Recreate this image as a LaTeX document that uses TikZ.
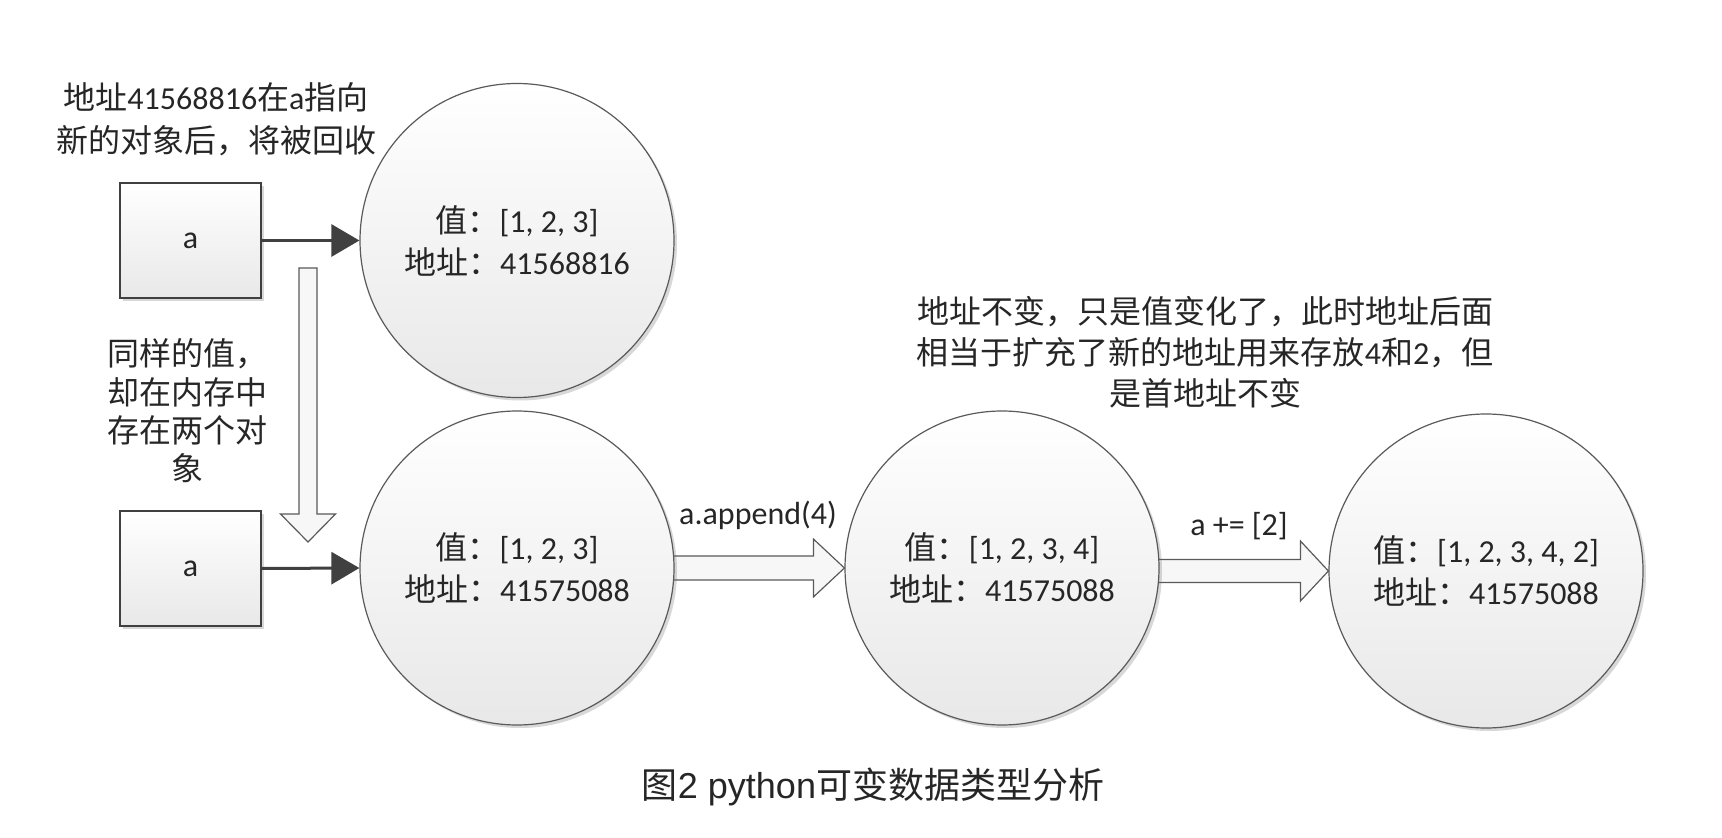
\documentclass[tikz,border=0pt]{standalone}
\usepackage{fontspec}
\setmainfont{Carlito}
\newfontfamily\cjk{Noto Sans CJK SC}
\newfontfamily\capsans{Liberation Sans}
\usetikzlibrary{arrows.meta,calc,shadows}
\definecolor{txt}{HTML}{262626}
\definecolor{cline}{HTML}{5A5A5A}
\definecolor{aline}{HTML}{404040}
\newcommand{\zh}[1]{{\cjk #1}}
\pgfdeclarelayer{back}
\pgfdeclarelayer{bg}
\pgfsetlayers{back,bg,main}
\tikzset{
  circ/.style={circle, draw=cline, line width=0.6pt, minimum size=157pt, inner sep=0pt,
    top color=white, bottom color=black!9, align=center, text=txt,
    font=\fontsize{16}{21}\selectfont,
    drop shadow={shadow xshift=1.5pt, shadow yshift=-1.5pt, opacity=0.25, fill=black!60}},
  boxnode/.style={rectangle, draw=aline, line width=0.7pt, minimum width=70.5pt, minimum height=57.5pt,
    inner sep=0pt, top color=white, bottom color=black!9, text=txt,
    font=\fontsize{16}{21}\selectfont,
    drop shadow={shadow xshift=1.5pt, shadow yshift=-1.5pt, opacity=0.25, fill=black!60}},
  conn/.style={draw=aline, line width=1.5pt, -{Triangle[length=14pt,width=16pt]}},
  hollow/.style={draw=cline, line width=0.6pt, fill=black!3, line join=miter},
  note/.style={align=center, text=txt, inner sep=0pt},
}
\begin{document}
\begin{tikzpicture}[x=0.5pt,y=-0.5pt]
\useasboundingbox (0,0) rectangle (1722,838);
\begin{pgfonlayer}{back}
\fill[white] (0,0) rectangle (1722,838);
\end{pgfonlayer}

% nodes
\node[boxnode] (b1) at (190.5,240.5) {a};
\node[circ] (c1) at (517,240.5) {\zh{值：}[1, 2, 3]\\\zh{地址：}41568816};
\node[boxnode] (b2) at (190.5,568.5) {a};
\node[circ] (c2) at (517,568) {\zh{值：}[1, 2, 3]\\\zh{地址：}41575088};
\node[circ] (c3) at (1002,568) {\zh{值：}[1, 2, 3, 4]\\\zh{地址：}41575088};
\node[circ] (c4) at (1486,571) {\zh{值：}[1, 2, 3, 4, 2]\\\zh{地址：}41575088};

% texts
\node[note, font=\fontsize{16}{21.5}\selectfont] (t1) at (216,119)
  {\zh{地址}41568816\zh{在}a\zh{指向}\\\zh{新的对象后，将被回收}};
\node[note, font=\fontsize{16}{19.2}\selectfont] (t2) at (187,411)
  {\zh{同样的值，}\\\zh{却在内存中}\\\zh{存在两个对}\\\zh{象}};
\node[note, font=\fontsize{16}{20.5}\selectfont] (t3) at (1205,352)
  {\zh{地址不变，只是值变化了，此时地址后面}\\\zh{相当于扩充了新的地址用来存放}4\zh{和}2\zh{，但}\\\zh{是首地址不变}};
\node[note, font=\fontsize{16}{20}\selectfont] (l1) at (758,515) {a.append(4)};
\node[note, font=\fontsize{16}{20}\selectfont] (l2) at (1239,526) {a += [2]};
\node[note, text=black!85, font=\fontsize{18}{22}\selectfont\capsans] (cap) at (873,787)
  {\zh{图}2 python\zh{可变数据类型分析}};

% dark connectors
\draw[conn] (b1.east) -- (c1.west);
\draw[conn] (b2.east) -- (c2.west);

% hollow arrows
\coordinate (dtop) at (308,268);
\coordinate (dtip) at (308,542);
\begin{pgfonlayer}{bg}
\draw[hollow] ($(dtop)+(-9,0)$) -- ($(dtip)+(-9,-28)$) -- ($(dtip)+(-27.5,-28)$) -- (dtip)
  -- ($(dtip)+(27.5,-28)$) -- ($(dtip)+(9,-28)$) -- ($(dtop)+(9,0)$) -- cycle;
\draw[hollow] ($(c2.east)+(-4,-12)$) -- ($(c3.west)+(-31,-12)$) -- ($(c3.west)+(-31,-29)$) -- (c3.west)
  -- ($(c3.west)+(-31,29)$) -- ($(c3.west)+(-31,12)$) -- ($(c2.east)+(-4,12)$) -- cycle;
\draw[hollow] ($(c3.east |- c4.west)+(-4,-11.5)$) -- ($(c4.west)+(-28,-11.5)$) -- ($(c4.west)+(-28,-30)$) -- (c4.west)
  -- ($(c4.west)+(-28,30)$) -- ($(c4.west)+(-28,11.5)$) -- ($(c3.east |- c4.west)+(-4,11.5)$) -- cycle;
\end{pgfonlayer}
\end{tikzpicture}
\end{document}
